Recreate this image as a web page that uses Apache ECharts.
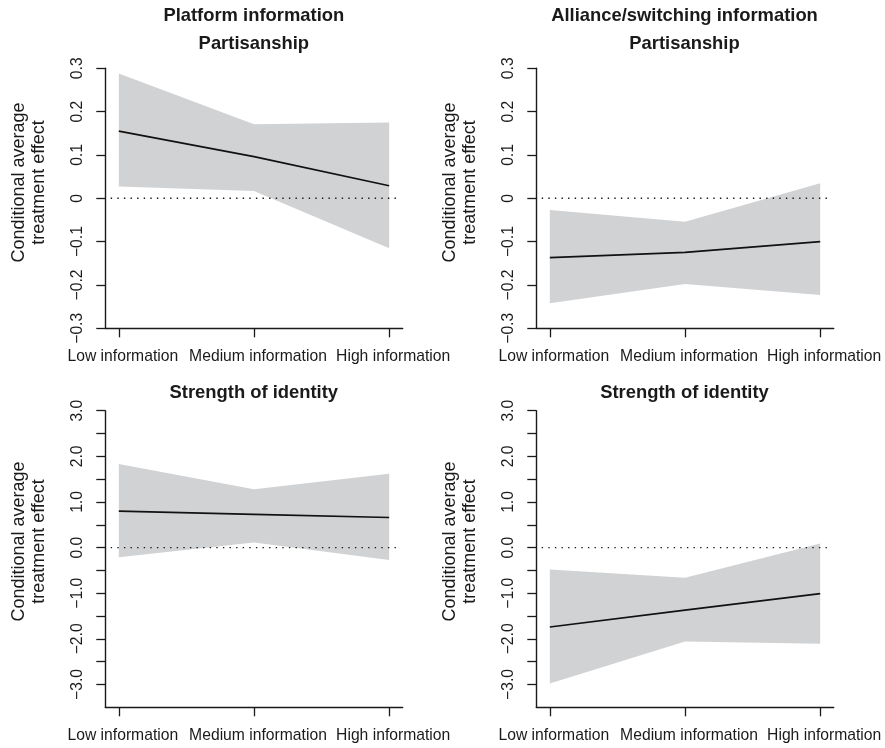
<!DOCTYPE html>
<html><head><meta charset="utf-8">
<script src="https://cdn.jsdelivr.net/npm/echarts@6/dist/echarts.min.js"></script>
<style>html,body{margin:0;padding:0;background:#fff}#c{width:885px;height:748px}</style>
</head><body><div id="c"></div>
<script>
// ---- data ----
const categories = ['Low information', 'Medium information', 'High information'];
const catPos = [0, 1, 2];

const platPartMean  = [0.155, 0.096, 0.029];
const platPartUpper = [0.288, 0.171, 0.175];
const platPartLower = [0.027, 0.017, -0.115];

const allyPartMean  = [-0.137, -0.125, -0.100];
const allyPartUpper = [-0.027, -0.054, 0.035];
const allyPartLower = [-0.242, -0.198, -0.223];

const platIdMean  = [0.80, 0.73, 0.66];
const platIdUpper = [1.83, 1.28, 1.62];
const platIdLower = [-0.21, 0.11, -0.27];

const allyIdMean  = [-1.74, -1.37, -1.01];
const allyIdUpper = [-0.48, -0.66, 0.09];
const allyIdLower = [-2.98, -2.06, -2.11];

const partTicks = [-0.3, -0.2, -0.1, 0, 0.1, 0.2, 0.3];
const idTicks = [-3, -2.5, -2, -1.5, -1, -0.5, 0, 0.5, 1, 1.5, 2, 2.5, 3];
const idLabels = [-3, -2, -1, 0, 1, 2, 3];

const colTitles = ['Platform information', 'Alliance/switching information'];
const rowTitles = ['Partisanship', 'Strength of identity'];
const yTitle = 'Conditional average\ntreatment effect';

// ---- layout ----
const FONT = '"Liberation Sans", Arial, Helvetica, sans-serif';
const INK = '#1a1a1a';
const BAND = '#d1d2d4';
const colLeft = [105.3, 536.3];
const plotW = 297.4;
const rowTop = [68.3, 410.7];
const rowH = [260, 296.6];

const panels = [
  {r: 0, c: 0, mean: platPartMean, up: platPartUpper, lo: platPartLower},
  {r: 0, c: 1, mean: allyPartMean, up: allyPartUpper, lo: allyPartLower},
  {r: 1, c: 0, mean: platIdMean, up: platIdUpper, lo: platIdLower},
  {r: 1, c: 1, mean: allyIdMean, up: allyIdUpper, lo: allyIdLower}
];

function fmtPart(v) {
  const a = Math.abs(v);
  if (a < 1e-9) return '0';
  return (v < 0 ? '\u2212' : '') + a.toFixed(1);
}
function fmtId(v) {
  const a = Math.abs(v);
  if (a < 1e-9) return '0.0';
  return (v < 0 ? '\u2212' : '') + a.toFixed(1);
}

const grid = [], xAxis = [], yAxis = [], series = [], graphic = [];
panels.forEach((p, i) => {
  grid.push({left: colLeft[p.c], top: rowTop[p.r], width: plotW, height: rowH[p.r],
    containLabel: false, outerBoundsMode: 'none'});
  xAxis.push({
    type: 'value', gridIndex: i, min: -0.1, max: 2.1,
    splitLine: {show: false},
    axisLine: {show: true, onZero: false, lineStyle: {color: INK, width: 1.4}},
    axisTick: {show: true, length: 9, customValues: catPos, lineStyle: {color: INK, width: 1.3}},
    axisLabel: {show: true, customValues: catPos, margin: 20, padding: [0, 0, 0, 8],
      fontFamily: FONT, fontSize: 15.7, color: INK,
      formatter: v => categories[Math.round(v)]}
  });
  const isPart = p.r === 0;
  yAxis.push({
    type: 'value', gridIndex: i,
    min: isPart ? -0.3 : -3.5, max: isPart ? 0.3 : 3.0,
    splitLine: {show: false},
    axisLine: {show: true, onZero: false, lineStyle: {color: INK, width: 1.4}},
    axisTick: {show: true, length: 9, customValues: isPart ? partTicks : idTicks, lineStyle: {color: INK, width: 1.3}},
    axisLabel: {show: true, customValues: isPart ? partTicks : idLabels, rotate: 90, margin: 20,
      fontFamily: FONT, fontSize: 15.7, color: INK, formatter: isPart ? fmtPart : fmtId}
  });
  // confidence band
  const up = p.up, lo = p.lo;
  series.push({
    type: 'custom', xAxisIndex: i, yAxisIndex: i, z: 1, silent: true,
    data: catPos.map((x, k) => [x, lo[k], up[k]]),
    renderItem: (params, api) => {
      if (params.dataIndex !== 0) return null;
      const pts = [];
      catPos.forEach((x, k) => pts.push(api.coord([x, up[k]])));
      for (let k = catPos.length - 1; k >= 0; k--) pts.push(api.coord([catPos[k], lo[k]]));
      return {type: 'polygon', shape: {points: pts}, style: {fill: BAND}};
    }
  });
  // zero reference line
  series.push({
    type: 'line', xAxisIndex: i, yAxisIndex: i, z: 2, symbol: 'none', silent: true,
    data: [[-0.06, 0], [2.08, 0]],
    lineStyle: {color: INK, width: 1.4, type: [1.4, 5.2]}
  });
  // point estimate line
  series.push({
    type: 'line', xAxisIndex: i, yAxisIndex: i, z: 3, symbol: 'none', silent: true,
    data: catPos.map((x, k) => [x, p.mean[k]]),
    lineStyle: {color: '#111', width: 1.7}
  });
  // y-axis title
  graphic.push({
    type: 'text', x: colLeft[p.c] - 75.8, y: p.r === 0 ? 182.5 : 541.5, rotation: Math.PI / 2,
    style: {text: yTitle, font: '18px ' + FONT, fill: INK, textAlign: 'center', textVerticalAlign: 'middle', lineHeight: 20}
  });
});

const titleX = [253.8, 684.5];
const TFONT = 'bold 18.4px ' + FONT;
[0, 1].forEach(c => {
  graphic.push({type: 'text', x: titleX[c], y: 16,
    style: {text: colTitles[c], font: TFONT, fill: INK, textAlign: 'center', textVerticalAlign: 'middle'}});
  graphic.push({type: 'text', x: titleX[c], y: 44,
    style: {text: rowTitles[0], font: TFONT, fill: INK, textAlign: 'center', textVerticalAlign: 'middle'}});
  graphic.push({type: 'text', x: titleX[c], y: 392.5,
    style: {text: rowTitles[1], font: TFONT, fill: INK, textAlign: 'center', textVerticalAlign: 'middle'}});
});

const chart = echarts.init(document.getElementById('c'), null, {renderer: 'canvas'});
chart.setOption({
  animation: false,
  backgroundColor: '#ffffff',
  grid, xAxis, yAxis, series, graphic
});
</script>
</body></html>
